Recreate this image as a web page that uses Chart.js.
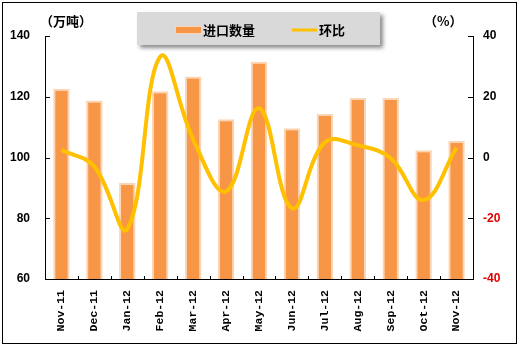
<!DOCTYPE html>
<html>
<head>
<meta charset="utf-8">
<script src="https://cdn.jsdelivr.net/npm/chart.js@4/dist/chart.umd.min.js"></script>
<style>
  html, body { margin: 0; padding: 0; background: #fff; }
  #wrap { width: 521px; height: 348px; }
</style>
</head>
<body>
<div id="wrap"><canvas id="c" width="521" height="348"></canvas></div>
<script>
// Monthly import volume (10k tonnes) and month-on-month change (%)
const months = ['Nov-11', 'Dec-11', 'Jan-12', 'Feb-12', 'Mar-12', 'Apr-12', 'May-12',
                'Jun-12', 'Jul-12', 'Aug-12', 'Sep-12', 'Oct-12', 'Nov-12'];
const importVolume = [122.6, 118.8, 91.6, 121.8, 126.7, 112.6, 131.5,
                      109.6, 114.3, 119.6, 119.6, 102.4, 105.4];
const momChange = [2.5, -3, -23.5, 33.2, 6, -11.2, 16.2,
                   -16.7, 5, 4, -0.2, -14, 3.2];
const volumeTicks = [60, 80, 100, 120, 140];
const changeTicks = [-40, -20, 0, 20, 40];

const volumeLabel = '进口数量';
const changeLabel = '环比';
const volumeUnit = '（万吨）';
const changeUnit = '（%）';

const BAR_FILL = '#F79646';
const BAR_EDGE = '#FBD5B5';
const LINE_COLOR = '#FFC000';

const decor = {
  id: 'decor',
  beforeDraw(chart) {
    const ctx = chart.ctx;
    ctx.save();
    ctx.fillStyle = '#fff';
    ctx.fillRect(0, 0, chart.width, chart.height);
    ctx.restore();
  },
  afterDraw(chart) {
    const ctx = chart.ctx;
    const area = chart.chartArea;
    const yL = chart.scales.y;
    const yR = chart.scales.y1;
    const x = chart.scales.x;
    ctx.save();

    // inward tick marks
    ctx.strokeStyle = '#000';
    ctx.lineWidth = 1;
    ctx.beginPath();
    volumeTicks.forEach(v => {
      const py = Math.round(yL.getPixelForValue(v)) + 0.5;
      ctx.moveTo(area.left, py); ctx.lineTo(area.left + 5, py);
    });
    changeTicks.forEach(v => {
      const py = Math.round(yR.getPixelForValue(v)) + 0.5;
      ctx.moveTo(area.right - 5, py); ctx.lineTo(area.right, py);
    });
    for (let i = 1; i < months.length; i++) {
      const px = Math.round((x.getPixelForValue(i - 1) + x.getPixelForValue(i)) / 2) + 0.5;
      ctx.moveTo(px, area.bottom); ctx.lineTo(px, area.bottom - 3);
    }
    ctx.stroke();

    // axis unit captions
    ctx.fillStyle = '#000';
    ctx.font = 'bold 13px "Noto Sans CJK SC"';
    ctx.textBaseline = 'middle';
    ctx.textAlign = 'left';
    ctx.fillText(volumeUnit, 40, 21);
    ctx.fillText(changeUnit, 424, 21);

    // legend panel with drop shadow
    ctx.save();
    ctx.shadowColor = 'rgba(0,0,0,0.45)';
    ctx.shadowOffsetX = 3;
    ctx.shadowOffsetY = 3;
    ctx.shadowBlur = 4;
    ctx.fillStyle = '#D9D9D9';
    ctx.fillRect(137, 12, 243, 33);
    ctx.restore();

    // legend entries
    const ly = 30;
    ctx.fillStyle = BAR_FILL;
    ctx.fillRect(176, ly - 3, 25, 6);
    ctx.strokeStyle = BAR_EDGE;
    ctx.lineWidth = 1;
    ctx.strokeRect(175.5, ly - 3.5, 26, 7);
    ctx.font = 'bold 13px "Noto Sans CJK SC"';
    ctx.fillStyle = '#000';
    ctx.fillText(volumeLabel, 203, ly);

    ctx.strokeStyle = LINE_COLOR;
    ctx.lineWidth = 3;
    ctx.beginPath();
    ctx.moveTo(292, ly); ctx.lineTo(317, ly);
    ctx.stroke();
    ctx.fillText(changeLabel, 319, ly);

    // outer frame
    ctx.strokeStyle = '#000';
    ctx.lineWidth = 1;
    ctx.strokeRect(2.5, 2.5, 514, 341);
    ctx.restore();
  }
};

new Chart(document.getElementById('c'), {
  data: {
    labels: months,
    datasets: [
      {
        type: 'line',
        label: changeLabel,
        data: momChange,
        yAxisID: 'y1',
        borderColor: LINE_COLOR,
        borderWidth: 4,
        pointRadius: 0,
        tension: 0.4,
        fill: false,
        order: 0
      },
      {
        type: 'bar',
        label: volumeLabel,
        data: importVolume,
        yAxisID: 'y',
        backgroundColor: BAR_FILL,
        borderColor: BAR_EDGE,
        borderWidth: 2,
        borderSkipped: 'bottom',
        categoryPercentage: 1,
        barPercentage: 0.5,
        order: 1
      }
    ]
  },
  options: {
    responsive: false,
    animation: false,
    devicePixelRatio: 1,
    layout: { padding: { top: 36, left: 0, right: 0, bottom: 0 } },
    plugins: { legend: { display: false }, tooltip: { enabled: false } },
    scales: {
      x: {
        offset: true,
        grid: { display: false, drawTicks: false },
        border: { display: true, color: '#000', width: 1 },
        ticks: {
          autoSkip: false,
          minRotation: 90,
          maxRotation: 90,
          padding: 11,
          color: '#000',
          font: { family: '"Liberation Mono"', size: 11.5, weight: 'bold' }
        },
        afterFit(s) { s.height = 69; }
      },
      y: {
        position: 'left',
        min: 60,
        max: 140,
        grid: { display: false, drawTicks: false },
        border: { display: true, color: '#000', width: 1 },
        afterBuildTicks(s) { s.ticks = volumeTicks.map(v => ({ value: v })); },
        ticks: {
          padding: 15,
          color: '#000',
          font: { family: '"Liberation Sans"', size: 12, weight: 'bold' }
        },
        afterFit(s) { s.width = 45; }
      },
      y1: {
        position: 'right',
        min: -40,
        max: 40,
        grid: { display: false, drawTicks: false },
        border: { display: true, color: '#000', width: 1 },
        afterBuildTicks(s) { s.ticks = changeTicks.map(v => ({ value: v })); },
        ticks: {
          padding: 10,
          color: (c) => (c.tick && c.tick.value < 0 ? '#E00000' : '#000'),
          font: { family: '"Liberation Sans"', size: 12, weight: 'bold' }
        },
        afterFit(s) { s.width = 48; }
      }
    }
  },
  plugins: [decor]
});
</script>
</body>
</html>
